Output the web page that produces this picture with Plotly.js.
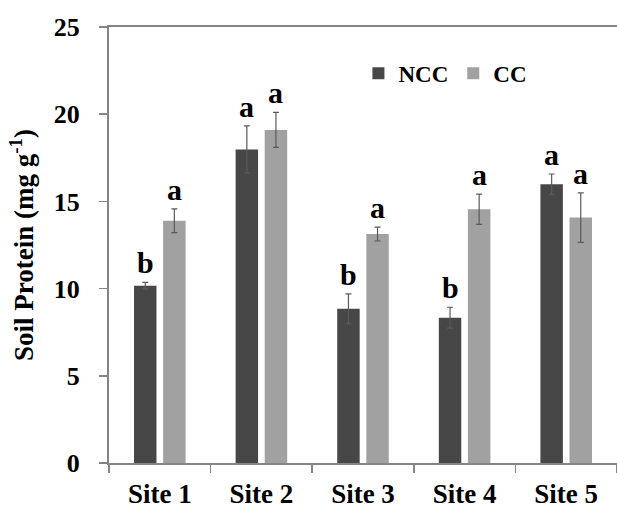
<!DOCTYPE html>
<html>
<head>
<meta charset="utf-8">
<script src="https://cdn.plot.ly/plotly-3.0.1.min.js"></script>
<style>html,body{margin:0;padding:0;background:#fff;}#chart{width:617px;height:508px;}</style>
</head>
<body>
<div id="chart"></div>
<script>
const sites = ["Site 1", "Site 2", "Site 3", "Site 4", "Site 5"];
const nccValues = [10.17, 17.98, 8.84, 8.33, 15.98];
const nccErrors = [0.19, 1.35, 0.86, 0.60, 0.59];
const nccLetters = ["b", "a", "b", "b", "a"];
const ccValues = [13.89, 19.10, 13.13, 14.55, 14.07];
const ccErrors = [0.68, 1.00, 0.40, 0.87, 1.42];
const ccLetters = ["a", "a", "a", "a", "a"];
const yTicks = [0, 5, 10, 15, 20, 25];

const FONT = "Liberation Serif, Times New Roman, serif";
const BARGAP = 0.427;

const traces = [
  {type: "bar", name: "NCC", x: sites, y: nccValues,
   marker: {color: "#474747"},
   error_y: {type: "data", array: nccErrors, visible: true, color: "#5a5a5a", thickness: 1.2, width: 3}},
  {type: "bar", name: "CC", x: sites, y: ccValues,
   marker: {color: "#a1a1a1"},
   error_y: {type: "data", array: ccErrors, visible: true, color: "#5a5a5a", thickness: 1.2, width: 3}}
];

const annotations = [];
const off = (1 - BARGAP) / 4;
[[nccValues, nccErrors, nccLetters, -off], [ccValues, ccErrors, ccLetters, off]].forEach(([v, e, l, o]) => {
  v.forEach((val, i) => {
    annotations.push({x: i + o, y: val + e[i], xref: "x", yref: "y", text: l[i],
      showarrow: false, yanchor: "bottom", yshift: 1,
      font: {family: FONT, size: 30, color: "#000", weight: "bold"}});
  });
});

const layout = {
  width: 617, height: 508,
  margin: {l: 109, r: 0, t: 27, b: 45},
  paper_bgcolor: "#fff", plot_bgcolor: "#fff",
  barmode: "group", bargap: BARGAP, bargroupgap: 0.228,
  showlegend: true,
  legend: {orientation: "h", x: 0.491, y: 0.894, xanchor: "left", yanchor: "middle",
    font: {family: FONT, size: 23, color: "#000", weight: "bold"}, bgcolor: "rgba(0,0,0,0)"},
  xaxis: {type: "category", showline: true, linecolor: "#858585", linewidth: 2, mirror: true,
    ticks: "outside", tickson: "boundaries", ticklen: 8, tickwidth: 1.5, tickcolor: "#858585",
    showgrid: false, zeroline: false, ticklabelstandoff: 6,
    tickfont: {family: FONT, size: 27, color: "#000", weight: "bold"}},
  yaxis: {range: [0, 25], tickvals: yTicks, showline: true, linecolor: "#858585", linewidth: 2,
    ticks: "outside", ticklen: 8, tickwidth: 1.5, tickcolor: "#858585",
    showgrid: false, zeroline: false, ticklabelstandoff: 14,
    tickfont: {family: FONT, size: 26, color: "#000", weight: "bold"},
    title: {text: "Soil Protein (mg g<sup>-1</sup>)", standoff: 12,
      font: {family: FONT, size: 27, color: "#000", weight: "bold"}}},
  annotations: annotations
};

Plotly.newPlot("chart", traces, layout, {displayModeBar: false, staticPlot: true});
</script>
</body>
</html>
